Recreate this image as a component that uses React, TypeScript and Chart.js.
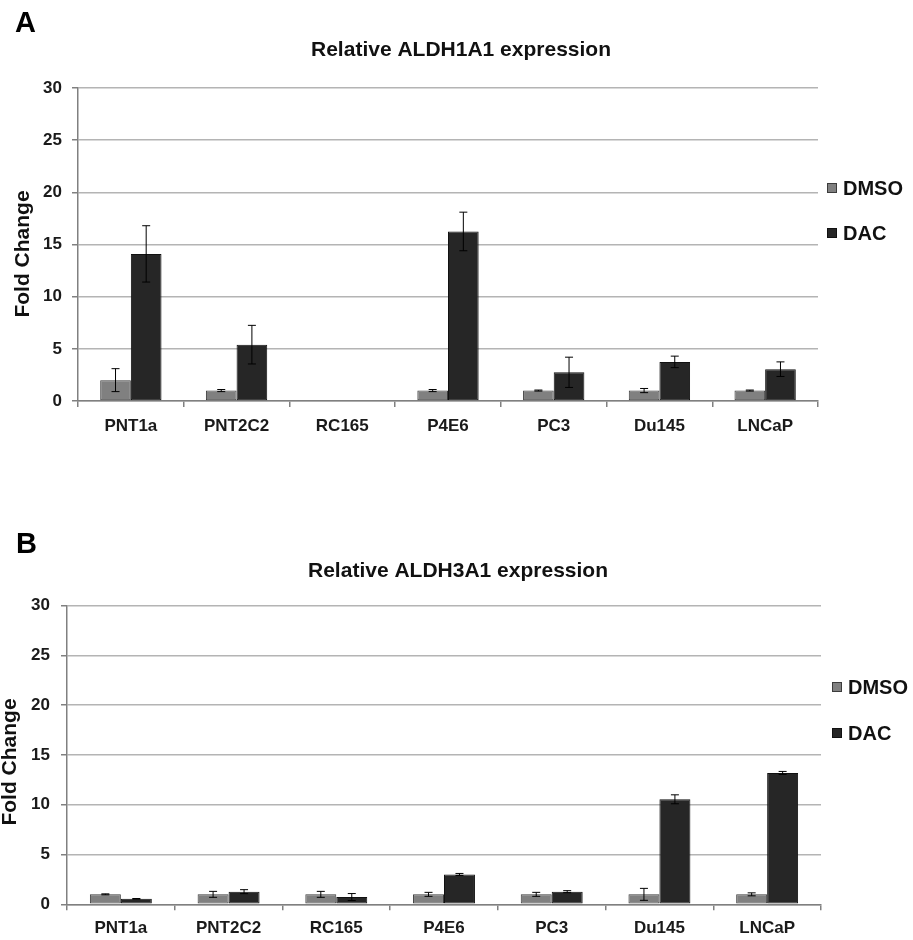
import React, { useEffect, useRef } from "react";
import { Chart, registerables } from "chart.js";

Chart.register(...registerables);

// ---------- data ----------
const categories = ["PNT1a", "PNT2C2", "RC165", "P4E6", "PC3", "Du145", "LNCaP"];
const seriesNames = ["DMSO", "DAC"];
const yTickValues = [0, 5, 10, 15, 20, 25, 30];
const yAxisTitle = "Fold Change";

const aldh1a1Dmso = [2.0, 1.0, 0, 1.0, 1.0, 1.0, 1.0];
const aldh1a1DmsoErr = [1.1, 0.1, 0, 0.1, 0.05, 0.2, 0.05];
const aldh1a1Dac = [14.1, 5.4, 0, 16.25, 2.75, 3.75, 3.05];
const aldh1a1DacErr = [2.7, 1.85, 0, 1.85, 1.45, 0.55, 0.7];

const aldh3a1Dmso = [1.0, 1.0, 1.0, 1.0, 1.0, 1.0, 1.0];
const aldh3a1DmsoErr = [0.05, 0.3, 0.3, 0.2, 0.2, 0.6, 0.15];
const aldh3a1Dac = [0.55, 1.27, 0.73, 3.0, 1.27, 10.55, 13.2];
const aldh3a1DacErr = [0.03, 0.2, 0.35, 0.1, 0.1, 0.45, 0.15];

const FONT = "'Liberation Sans', Arial, Helvetica, sans-serif";
const DMSO_FILL = "#808080";
const DMSO_BORDER = "#3c3c3c";
const DAC_FILL = "#262626";
const DAC_BORDER = "#111111";

// ---------- plugins ----------
const errorBarsPlugin = {
  id: "errorBars",
  afterDatasetsDraw(chart: any, _args: any, opts: any) {
    const errs: number[][] = opts.errors || [];
    const ctx = chart.ctx;
    const y = chart.scales.y;
    ctx.save();
    ctx.strokeStyle = "#000";
    ctx.lineWidth = 1;
    chart.data.datasets.forEach((ds: any, di: number) => {
      const meta = chart.getDatasetMeta(di);
      const e = errs[di] || [];
      meta.data.forEach((bar: any, i: number) => {
        const err = e[i];
        if (!err) return;
        const v = ds.data[i];
        const yt = y.getPixelForValue(v + err);
        const yb = y.getPixelForValue(Math.max(0, v - err));
        const x = bar.x;
        const cap = 4;
        ctx.beginPath();
        ctx.moveTo(x, yt);
        ctx.lineTo(x, yb);
        ctx.moveTo(x - cap, yt);
        ctx.lineTo(x + cap, yt);
        ctx.moveTo(x - cap, yb);
        ctx.lineTo(x + cap, yb);
        ctx.stroke();
      });
    });
    ctx.restore();
  },
};

const panelTextPlugin = {
  id: "panelText",
  afterDraw(chart: any, _args: any, opts: any) {
    const ctx = chart.ctx;
    ctx.save();
    ctx.fillStyle = "#000";
    ctx.textBaseline = "alphabetic";
    ctx.textAlign = "left";
    ctx.font = `bold 29px ${FONT}`;
    ctx.fillText(opts.letter, opts.letterX, opts.letterY);
    ctx.fillStyle = "#111";
    ctx.textAlign = "center";
    ctx.textBaseline = "middle";
    ctx.font = `bold 21px ${FONT}`;
    ctx.fillText(opts.title, opts.titleX, opts.titleY);
    // rotated y-axis title
    ctx.translate(opts.yTitleX, opts.yTitleY);
    ctx.rotate(-Math.PI / 2);
    ctx.fillText(opts.yTitle, 0, 0);
    ctx.restore();
  },
};

const sideLegendPlugin = {
  id: "sideLegend",
  afterDraw(chart: any, _args: any, opts: any) {
    const ctx = chart.ctx;
    const x0 = chart.chartArea.right + opts.dx;
    ctx.save();
    ctx.font = `bold 20px ${FONT}`;
    ctx.textAlign = "left";
    ctx.textBaseline = "middle";
    chart.data.datasets.forEach((ds: any, i: number) => {
      const yc = opts.ys[i];
      ctx.fillStyle = ds.backgroundColor;
      ctx.fillRect(x0, yc - 5, 10, 10);
      ctx.strokeStyle = ds.borderColor;
      ctx.lineWidth = 1;
      ctx.strokeRect(x0 + 0.5, yc - 4.5, 9, 9);
      ctx.fillStyle = "#111";
      ctx.fillText(ds.label, x0 + opts.textGap, yc + 1);
    });
    ctx.restore();
  },
};

// ---------- config builder ----------
function buildConfig(p: any) {
  return {
    type: "bar",
    data: {
      labels: categories,
      datasets: [
        {
          label: seriesNames[0],
          data: p.dmso,
          backgroundColor: DMSO_FILL,
          borderColor: DMSO_BORDER,
          borderWidth: 1,
          borderSkipped: false,
          barPercentage: 1.0,
          categoryPercentage: p.catPct,
        },
        {
          label: seriesNames[1],
          data: p.dac,
          backgroundColor: DAC_FILL,
          borderColor: DAC_BORDER,
          borderWidth: 1,
          borderSkipped: false,
          barPercentage: 1.0,
          categoryPercentage: p.catPct,
        },
      ],
    },
    options: {
      responsive: false,
      animation: false,
      devicePixelRatio: 1,
      layout: { padding: { top: p.padTop, right: p.padRight, left: 0, bottom: 0 } },
      plugins: {
        legend: { display: false },
        title: { display: false },
        tooltip: { enabled: false },
        errorBars: { errors: [p.dmsoErr, p.dacErr] },
        panelText: {
          letter: p.letter,
          letterX: p.letterX,
          letterY: p.letterY,
          title: p.title,
          titleX: p.titleX,
          titleY: p.titleY,
          yTitle: yAxisTitle,
          yTitleX: p.yTitleX,
          yTitleY: p.yTitleY,
        },
        sideLegend: { dx: p.legendDx, textGap: p.legendGap, ys: p.legendYs },
      },
      scales: {
        x: {
          grid: {
            offset: true,
            drawOnChartArea: false,
            drawTicks: true,
            tickLength: 6,
            tickColor: "#808080",
            lineWidth: 1.5,
          },
          border: { color: "#808080", width: 1.5 },
          ticks: {
            font: { family: FONT, size: 17, weight: "bold" },
            color: "#1a1a1a",
            padding: p.xTickPad,
            maxRotation: 0,
            autoSkip: false,
          },
          afterFit: (s: any) => {
            s.height = p.xHeight;
          },
        },
        y: {
          min: 0,
          max: 30,
          afterBuildTicks: (s: any) => {
            s.ticks = yTickValues.map((v) => ({ value: v }));
          },
          ticks: {
            font: { family: FONT, size: 17, weight: "bold" },
            color: "#1a1a1a",
            padding: p.yTickPad,
          },
          grid: {
            color: "#b4b4b4",
            lineWidth: 1.5,
            tickColor: "#808080",
            tickLength: 6,
          },
          border: { color: "#808080", width: 1.5 },
          title: { display: false },
          afterFit: (s: any) => {
            s.width = p.yWidth;
          },
        },
      },
    },
    plugins: [errorBarsPlugin, panelTextPlugin, sideLegendPlugin],
  };
}

function ChartCanvas({ config, width, height, top }: any) {
  const ref = useRef<HTMLCanvasElement | null>(null);
  useEffect(() => {
    if (!ref.current) return;
    const chart = new Chart(ref.current, config as any);
    return () => chart.destroy();
  }, []);
  return (
    <canvas
      ref={ref}
      width={width}
      height={height}
      style={{ position: "absolute", left: 0, top, width, height }}
    />
  );
}

export default function App() {
  const configA = buildConfig({
    dmso: aldh1a1Dmso,
    dmsoErr: aldh1a1DmsoErr,
    dac: aldh1a1Dac,
    dacErr: aldh1a1DacErr,
    letter: "A",
    letterX: 15,
    letterY: 32,
    title: "Relative ALDH1A1 expression",
    titleX: 461,
    titleY: 50,
    yTitleX: 23,
    yTitleY: 254,
    padTop: 88,
    padRight: 95,
    yWidth: 78,
    xHeight: 59,
    yTickPad: 10,
    xTickPad: 9.5,
    legendDx: 9,
    legendGap: 16,
    legendYs: [188, 233],
    catPct: 0.58,
  });
  const configB = buildConfig({
    dmso: aldh3a1Dmso,
    dmsoErr: aldh3a1DmsoErr,
    dac: aldh3a1Dac,
    dacErr: aldh3a1DacErr,
    letter: "B",
    letterX: 16,
    letterY: 63,
    title: "Relative ALDH3A1 expression",
    titleX: 458,
    titleY: 81,
    yTitleX: 10,
    yTitleY: 272,
    padTop: 115.7,
    padRight: 92,
    yWidth: 67,
    xHeight: 35.7,
    yTickPad: 11,
    xTickPad: 7.5,
    legendDx: 11,
    legendGap: 16,
    legendYs: [197, 243],
    catPct: 0.575,
  });
  return (
    <div style={{ position: "absolute", left: 0, top: 0, width: 913, height: 940, background: "#fff" }}>
      <ChartCanvas config={configA} width={913} height={460} top={0} />
      <ChartCanvas config={configB} width={913} height={450} top={490} />
    </div>
  );
}
